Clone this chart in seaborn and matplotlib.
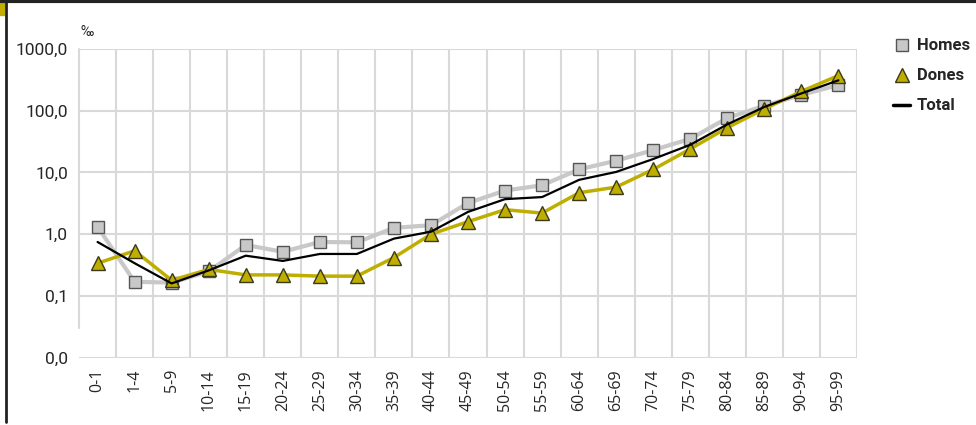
import matplotlib.pyplot as plt
import matplotlib.patches as mpatches
from matplotlib.lines import Line2D
import seaborn as sns
import pandas as pd

age_groups = ["0-1", "1-4", "5-9", "10-14", "15-19", "20-24", "25-29", "30-34", "35-39", "40-44",
              "45-49", "50-54", "55-59", "60-64", "65-69", "70-74", "75-79", "80-84", "85-89", "90-94", "95-99"]
homes = [1.32, 0.17, 0.165, 0.25, 0.67, 0.52, 0.75, 0.74, 1.27, 1.4,
         3.2, 5.1, 6.2, 11.2, 15.5, 23, 35, 76, 120, 180, 260]
dones = [0.34, 0.54, 0.18, 0.27, 0.22, 0.22, 0.21, 0.21, 0.42, 1.0,
         1.6, 2.5, 2.2, 4.7, 5.8, 11.2, 24, 53, 107, 205, 370]
total = [0.75, 0.34, 0.16, 0.26, 0.45, 0.37, 0.48, 0.48, 0.85, 1.1,
         2.3, 3.7, 4.0, 7.6, 10.2, 16.5, 28, 60, 115, 190, 310]
y_ticks = [0.01, 0.1, 1, 10, 100, 1000]
y_labels = ["0,0", "0,1", "1,0", "10,0", "100,0", "1000,0"]

df = pd.DataFrame({"grup": age_groups, "Homes": homes, "Dones": dones, "Total": total})
df["pos"] = range(len(df))

GRAY = "#c8c8c8"
OLIVE = "#bfae00"
GRID = "#d9d9d9"
narrow = ["Roboto", "DejaVu Sans"]

sns.set_style("white")
fig = plt.figure(figsize=(9.76, 4.25), dpi=100)
ax = fig.add_axes([0.081, 0.158, 0.797, 0.727])

ax.set_yscale("log")
sns.lineplot(data=df, x="pos", y="Homes", ax=ax, color=GRAY, lw=3, marker="s", ms=8,
             markerfacecolor=GRAY, markeredgecolor="#555555", markeredgewidth=1, zorder=3)
sns.lineplot(data=df, x="pos", y="Dones", ax=ax, color=OLIVE, lw=2.5, marker="^", ms=10,
             markerfacecolor=OLIVE, markeredgecolor="#3a3a1a", markeredgewidth=1, zorder=4)
sns.lineplot(data=df, x="pos", y="Total", ax=ax, color="black", lw=1.6, zorder=5)

ax.set_xlim(-0.5, len(age_groups) - 0.5)
ax.set_ylim(0.01, 1000)
ax.set_yticks(y_ticks)
ax.set_yticklabels(y_labels, fontsize=12.5, family=narrow)
ax.minorticks_off()
ax.set_xticks(range(len(age_groups)))
ax.set_xticklabels(age_groups, rotation=90, fontsize=11.5, family=["Open Sans", "DejaVu Sans"])
ax.tick_params(axis="both", length=0, pad=8)
ax.set_xlabel("")
ax.set_ylabel("")

for x in [i + 0.5 for i in range(len(age_groups))]:
    ax.axvline(x, color=GRID, lw=1.5, zorder=0)
for y in y_ticks:
    ax.axhline(y, color=GRID, lw=1.5, zorder=0)

for side in ["top", "right", "bottom", "left"]:
    ax.spines[side].set_visible(False)
ax.plot([-0.5, -0.5], [0.03, 1000], color=GRID, lw=1.5, clip_on=False, zorder=0)

ax.text(-0.45, 1000 * 1.45, "‰", fontsize=10, family=narrow, ha="left", va="bottom")

handles = [
    Line2D([], [], ls="none", marker="s", ms=8, mfc=GRAY, mec="#555555", label="Homes"),
    Line2D([], [], ls="none", marker="^", ms=10, mfc=OLIVE, mec="#3a3a1a", label="Dones"),
    Line2D([], [], color="black", lw=2.5, label="Total"),
]
fig.legend(handles=handles, loc="upper left", bbox_to_anchor=(0.9, 0.945), frameon=False,
           prop={"family": narrow, "size": 12, "weight": "bold"}, handlelength=1.0,
           handletextpad=0.4, labelspacing=0.9)

# frame lines round the figure
fig.add_artist(Line2D([0, 1], [0.997, 0.997], color="#222222", lw=3, transform=fig.transFigure))
fig.add_artist(Line2D([0.0065, 0.0065], [0.008, 0.997], color="#222222", lw=2, transform=fig.transFigure))
fig.add_artist(mpatches.Rectangle((0, 0.965), 0.004, 0.035, color=OLIVE, transform=fig.transFigure))

plt.savefig("out.png", dpi=100)
